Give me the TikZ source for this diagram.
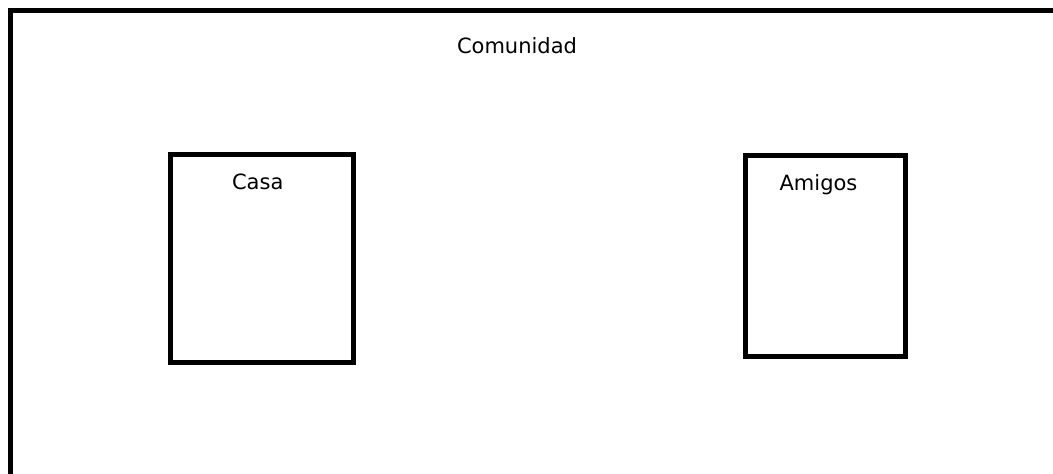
\documentclass[tikz,border=0pt]{standalone}
\usepackage{fontspec}
\setmainfont{DejaVu Sans}
\usetikzlibrary{positioning}

\begin{document}
\begin{tikzpicture}[
    x=1pt, y=-1pt,
    frame/.style={draw, line width=5pt},
    box/.style={
        rectangle,
        draw,
        line width=5pt,
        inner sep=0pt
    },
    tag/.style={inner sep=0pt, font=\fontsize{21}{25}\selectfont}
]

\clip (0,0) rectangle (1053,474);

% Community frame (runs off the right and bottom edges)
\draw[frame] (10.5,10.5) rectangle (1080,500);
\node[tag, anchor=north] (comunidad) at (517,37) {Comunidad};

% Places inside the community
\node[box, minimum width=182.5pt, minimum height=207.5pt] (casa) at (261.75,258.25) {};
\node[tag, below=22pt of casa.north, xshift=-4pt] (casatext) {Casa};

\node[box, minimum width=160pt, minimum height=200.5pt] (amigos) at (825.5,255.75) {};
\node[tag, below=21pt of amigos.north, xshift=-7pt] (amigostext) {Amigos};

\end{tikzpicture}
\end{document}
